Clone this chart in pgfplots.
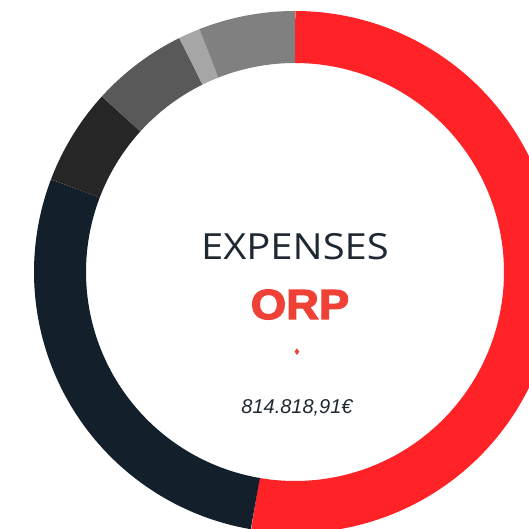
\documentclass[border=0pt]{standalone}
\usepackage{pgfplots}
\pgfplotsset{compat=1.18}
\usepackage{pgfplotstable}
\usepackage{fontspec}
\setmainfont{Liberation Sans}
\newfontfamily\opensans{Open Sans}
\newfontfamily\orpfont{Liberation Sans}[FakeBold=3]
\newfontfamily\dejavu{DejaVu Sans}
\definecolor{cRed}{HTML}{FF2226}
\definecolor{cNavy}{HTML}{131F2B}
\definecolor{cBlack}{HTML}{262626}
\definecolor{cDGray}{HTML}{595959}
\definecolor{cLGray}{HTML}{A6A6A6}
\definecolor{cGray}{HTML}{808080}
\definecolor{cTitle}{HTML}{1D2833}
\definecolor{cOrp}{HTML}{EF4136}
% expenses in thousands of euro (total 814.82)
\pgfplotstableread{
value
429.41
228.80
48.56
48.56
10.84
48.65
}\slices
\begin{document}
\begin{tikzpicture}
\begin{axis}[x=1pt, y=1pt, xmin=-295, xmax=234, ymin=-257, ymax=272,
  hide axis, clip=true]
\xdef\acc{0}
\pgfplotsforeachungrouped \i/\col in {0/cRed,1/cNavy,2/cBlack,3/cDGray,4/cLGray,5/cGray} {%
  \pgfplotstablegetelem{\i}{value}\of\slices
  \pgfmathsetmacro\frac{\pgfplotsretval/814.82}%
  \pgfmathsetmacro\aa{\acc}%
  \pgfmathsetmacro\bb{\acc+360*\frac}%
  \edef\temp{\noexpand\addplot[draw=\col, line width=52pt, line cap=butt, domain=\aa:\bb, samples=150, variable=\noexpand\t, no markers] ({235*sin(\noexpand\t)},{235*cos(\noexpand\t)});}%
  \temp
  \xdef\acc{\bb}%
}
\node[anchor=base, text=cTitle, font=\opensans\fontsize{36}{40}\selectfont, xscale=1.11] at (axis cs:0,12) {EXPENSES};
\node[anchor=base, text=cOrp, font=\orpfont\bfseries\fontsize{42}{46}\selectfont, xscale=1.08] at (axis cs:5,-47) {ORP};
\node[text=cOrp, font=\dejavu\fontsize{9}{10}\selectfont, xscale=0.7] at (axis cs:2,-80) {◆};
\node[anchor=base, text=cTitle, font=\itshape\fontsize{20}{24}\selectfont] at (axis cs:2,-142) {814.818,91€};
\end{axis}
\pgfresetboundingbox
\path[use as bounding box] (current axis.south west) rectangle (current axis.north east);
\end{tikzpicture}
\end{document}
